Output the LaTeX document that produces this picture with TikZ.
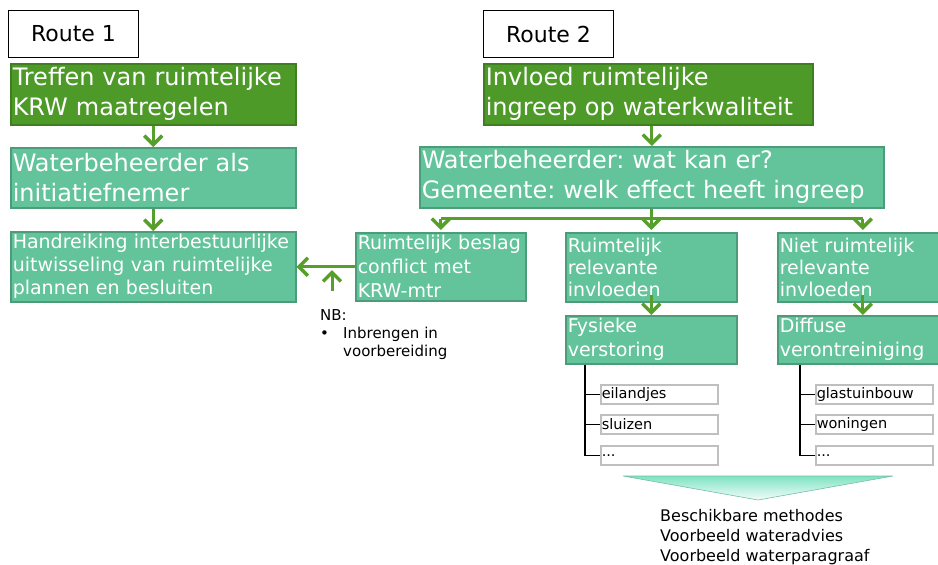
\documentclass[tikz,border=0pt]{standalone}
\usepackage{fontspec}
\setmainfont{DejaVu Sans}
\frenchspacing
\usepackage{tikz}
\usetikzlibrary{arrows.meta,positioning}
\definecolor{dgreen}{HTML}{4E9A28}
\definecolor{dgrand}{HTML}{3F7F21}
\definecolor{aqua}{HTML}{63C49B}
\definecolor{aquarand}{HTML}{4C9C7A}
\definecolor{pijlgroen}{HTML}{579F2B}
\definecolor{grijs}{HTML}{BFBFBF}
\definecolor{mint}{HTML}{7FE3C3}
\tikzstyle{kop} = [rectangle, draw=black, line width=1pt, fill=white, anchor=north west, minimum width=130pt, minimum height=47pt, font=\fontsize{22}{26}\selectfont]
\tikzstyle{dg} = [rectangle, draw=dgrand, fill=dgreen, line width=1.5pt, text=white, anchor=north west, align=left, inner sep=2pt, font=\fontsize{24}{30}\selectfont]
\tikzstyle{lg} = [rectangle, draw=aquarand, fill=aqua, line width=1.5pt, text=white, anchor=north west, align=left, inner sep=2pt, font=\fontsize{24}{30}\selectfont]
\tikzstyle{item} = [rectangle, draw=grijs, fill=white, line width=1.5pt, anchor=north west, align=left, inner sep=1pt, text width=115pt, minimum height=19pt, font=\fontsize{14.5}{17}\selectfont]
\tikzstyle{pijl} = [draw=pijlgroen, line width=3pt, -{Straight Barb[length=9pt,width=18pt,line width=3.5pt]}]
\tikzstyle{lijn} = [draw=pijlgroen, line width=3pt]
\tikzstyle{tak} = [draw=black, line width=1.5pt]

\begin{document}
\begin{tikzpicture}[x=1pt, y=-1pt]
\useasboundingbox (0,0) rectangle (938,565);
\node(K1)[kop] at (8,10) {Route 1};
\node(K2)[kop] at (483,10) {Route 2};
\node(T1)[dg, text width=281pt, minimum height=61pt] at (10,63) {Treffen van ruimtelijke\\KRW maatregelen};
\node(W1)[lg, text width=281pt, minimum height=60pt] at (10,147) {Waterbeheerder als\\initiatiefnemer};
\node(H)[lg, text width=281pt, minimum height=70pt, font=\fontsize{19}{23}\selectfont] at (10,231) {Handreiking interbestuurlijke\\uitwisseling van ruimtelijke\\plannen en besluiten};
\node(T2)[dg, text width=325pt, minimum height=61pt] at (483,63) {Invloed ruimtelijke\\ingreep op waterkwaliteit};
\node(W2)[lg, text width=460pt, minimum height=61pt] at (419,146) {Waterbeheerder: wat kan er?\\Gemeente: welk effect heeft ingreep};
\node(B)[lg, text width=166pt, minimum height=68pt, font=\fontsize{19}{24}\selectfont] at (355,232) {Ruimtelijk beslag\\conflict met\\KRW-mtr};
\node(R)[lg, text width=167pt, minimum height=69pt, font=\fontsize{19}{22}\selectfont] at (565,232) {Ruimtelijk\\relevante\\invloeden};
\node(N)[lg, text width=166pt, minimum height=69pt, font=\fontsize{19}{22}\selectfont] at (777,232) {Niet ruimtelijk\\relevante\\invloeden};
\node(F)[lg, text width=167pt, minimum height=48pt, font=\fontsize{19}{24}\selectfont] at (565,315) {Fysieke\\verstoring};
\node(D)[lg, text width=166pt, minimum height=48pt, font=\fontsize{19}{24}\selectfont] at (777,315) {Diffuse\\verontreiniging};
\node(NB)[anchor=north west, inner sep=0pt, align=left, font=\fontsize{15}{18}\selectfont] at (320,309) {NB:\\\makebox[23pt][l]{\textbullet}Inbrengen in\\\hspace*{23pt}voorbereiding};
\coordinate(nbp) at (332,291);
\node(e1)[item] at (600,384) {eilandjes};
\node(e2)[item] at (600,414) {sluizen};
\node(e3)[item] at (600,445) {...};
\node(g1)[item] at (815,384) {glastuinbouw};
\node(g2)[item] at (815,414) {woningen};
\node(g3)[item] at (815,445) {...};
\node(M)[anchor=north west, inner sep=0pt, align=left, font=\fontsize{16}{20}\selectfont] at (660,509) {Beschikbare methodes\\Voorbeeld wateradvies\\Voorbeeld waterparagraaf};
\draw[pijl] (T1.south) -- (W1.north);
\draw[pijl] (W1.south) -- (H.north);
\draw[pijl] (W2.north |- T2.south) -- (W2.north);
\draw[pijl] (B.west) -- (H.east);
\draw[pijl] (nbp) -- ++(0,-21);
\path (W2.south) ++(0,10) coordinate (J);
\draw[lijn] (W2.south) -- (J);
\draw[lijn] (J -| B.north) -- (J -| N.north);
\foreach \n in {B,R,N}
    \draw[pijl, shorten >=2pt] (J -| \n.north) -- (\n.north);
\draw[pijl] ([yshift=8pt]R.south) -- (F.north);
\draw[pijl] ([yshift=8pt]N.south) -- (D.north);
\draw[tak] ([xshift=20pt]F.south west) |- (e3.west);
\draw[tak] ([xshift=20pt]F.south west |- e1.west) -- (e1.west);
\draw[tak] ([xshift=20pt]F.south west |- e2.west) -- (e2.west);
\draw[tak] ([xshift=23pt]D.south west) |- (g3.west);
\draw[tak] ([xshift=23pt]D.south west |- g1.west) -- (g1.west);
\draw[tak] ([xshift=23pt]D.south west |- g2.west) -- (g2.west);
\shade[top color=mint, bottom color=mint!8] (623,476) -- (893,476) -- (758,500) -- cycle;
\draw[mint!80!black!90, line width=0.6pt] (623,476) -- (893,476) -- (758,500) -- cycle;
\end{tikzpicture}
\end{document}
